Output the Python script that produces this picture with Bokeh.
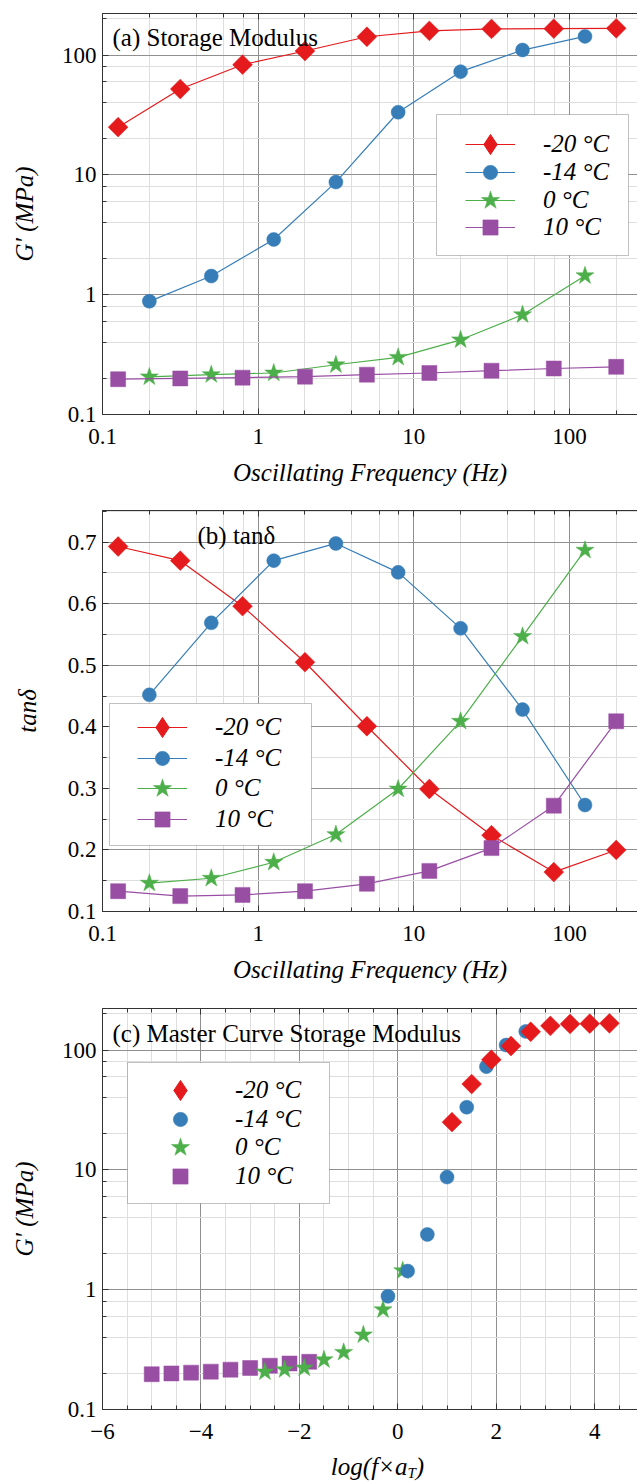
from bokeh.plotting import figure
from bokeh.models import (LogAxis, LinearAxis, LogTicker, SingleIntervalTicker,
                          CustomJSTickFormatter, Legend, LegendItem, Label,
                          BoxAnnotation, Range1d, Div)
from bokeh.layouts import column
from bokeh.embed import file_html
from bokeh.resources import INLINE

# ---------------- data ----------------
series_names = ["-20 °C", "-14 °C", "0 °C", "10 °C"]
colors = ["#e41a1c", "#377eb8", "#4daf4a", "#984ea3"]

freq_9 = [0.126, 0.316, 0.794, 2.0, 5.0, 12.6, 31.6, 79.4, 200.0]   # -20 °C and 10 °C
freq_8 = [0.2, 0.5, 1.26, 3.16, 7.94, 20.0, 50.0, 126.0]            # -14 °C and 0 °C

g_m20 = [25, 52, 83, 108, 142, 159, 165, 166, 167]
g_m14 = [0.88, 1.43, 2.89, 8.7, 33.3, 72.6, 110, 143]
g_0 = [0.206, 0.215, 0.222, 0.26, 0.30, 0.42, 0.68, 1.44]
g_10 = [0.197, 0.200, 0.203, 0.207, 0.215, 0.222, 0.232, 0.242, 0.25]

tan_m20 = [0.693, 0.670, 0.596, 0.505, 0.401, 0.299, 0.224, 0.164, 0.200]
tan_m14 = [0.452, 0.569, 0.670, 0.698, 0.651, 0.560, 0.428, 0.273]
tan_0 = [0.146, 0.154, 0.180, 0.225, 0.299, 0.409, 0.547, 0.687]
tan_10 = [0.133, 0.125, 0.127, 0.133, 0.145, 0.166, 0.203, 0.272, 0.409]

logfa_m20 = [1.1, 1.5, 1.9, 2.3, 2.7, 3.1, 3.5, 3.9, 4.3]
logfa_m14 = [-0.2, 0.2, 0.6, 1.0, 1.4, 1.8, 2.2, 2.6]
logfa_0 = [-2.7, -2.3, -1.9, -1.5, -1.1, -0.7, -0.3, 0.1]
logfa_10 = [-5.0, -4.6, -4.2, -3.8, -3.4, -3.0, -2.6, -2.2, -1.8]

# ---------------- style ----------------
SERIF = "Liberation Serif"
W = 637
LEFT = 102
TICK_FS = "23px"
LABEL_FS = "25px"
MAJ_GRID = "#8f8f8f"
MIN_GRID = "#dedede"
AX = "#333333"

markers = [dict(marker="square", angle=0.785398, size=14),
           dict(marker="circle", size=14),
           dict(marker="star", size=19),
           dict(marker="square", size=15)]
# legend glyph box heights (legend marker size = 0.4 * box)
legend_gh = [52, 36, 48, 38]

log_fmt = CustomJSTickFormatter(code="return String(Number(tick.toPrecision(3)));")
minus_fmt = CustomJSTickFormatter(code="return (tick < 0 ? '\\u2212' + String(-tick) : String(tick));")
dec_fmt = CustomJSTickFormatter(code="return tick.toFixed(1);")
blank_fmt = CustomJSTickFormatter(code="return ' ';")


def style_axis(ax, show_labels=True):
    ax.major_tick_in = 6
    ax.major_tick_out = 0
    ax.minor_tick_in = 4
    ax.minor_tick_out = 0
    ax.axis_line_color = AX
    ax.major_tick_line_color = AX
    ax.minor_tick_line_color = AX
    ax.major_label_text_font = SERIF
    ax.major_label_text_color = "black" if show_labels else None
    ax.major_label_text_font_size = TICK_FS if show_labels else "2px"
    ax.axis_label_text_font = SERIF
    ax.axis_label_text_font_style = "italic"
    ax.axis_label_text_font_size = LABEL_FS
    ax.axis_label_text_color = "black"


def make_fig(height, top, bottom, x_type, y_type, x_range, y_range):
    p = figure(width=W, height=height, x_axis_type=x_type, y_axis_type=y_type,
               x_range=x_range, y_range=y_range,
               output_backend="svg", toolbar_location=None,
               min_border_left=LEFT, min_border_right=0,
               min_border_top=top, min_border_bottom=bottom)
    p.outline_line_color = None
    p.background_fill_color = "white"
    p.border_fill_color = "white"
    for g in (p.xgrid[0], p.ygrid[0]):
        g.grid_line_color = MAJ_GRID
        g.grid_line_width = 1
        g.minor_grid_line_color = MIN_GRID
        g.minor_grid_line_width = 1
    return p


def add_top_axis(p, ticker, log=True):
    ax = LogAxis(ticker=ticker, formatter=blank_fmt) if log else LinearAxis(ticker=ticker, formatter=blank_fmt)
    style_axis(ax, show_labels=False)
    ax.major_label_standoff = 0
    p.add_layout(ax, "above")


def legend_box(p, left, right, bottom, top):
    box = BoxAnnotation(left=left, right=right, bottom=bottom, top=top,
                        left_units="screen", right_units="screen",
                        bottom_units="screen", top_units="screen",
                        fill_color="white", fill_alpha=1.0,
                        line_color="#333333", line_width=1, level="annotation")
    p.add_layout(box)


def add_legend_row(p, item, x, y_center, gw, gh, standoff):
    lg = Legend(items=[item], location=(int(x), int(y_center - gh // 2)),
                padding=0, spacing=0,
                glyph_width=int(gw), glyph_height=int(gh), label_height=int(gh),
                label_standoff=int(standoff), border_line_color=None,
                background_fill_alpha=0.0,
                label_text_font=SERIF, label_text_font_style="italic",
                label_text_font_size=LABEL_FS, label_text_color="black")
    p.add_layout(lg)


def legend_proxy(p, idx, xs, ys, real):
    # the legend draws markers unrotated: use a diamond-shaped hidden copy for -20 °C
    if idx == 0:
        return p.scatter(xs, ys, marker="diamond", size=20, fill_color=colors[0],
                         line_color=colors[0], visible=False)
    return real


# ================= panel (a) =================
pa = make_fig(497, 13, 83, "log", "log", Range1d(0.1, 274), Range1d(0.1, 222))
pa.xaxis.ticker = LogTicker()
pa.yaxis.ticker = LogTicker()
pa.xaxis.formatter = log_fmt
pa.yaxis.formatter = log_fmt
style_axis(pa.xaxis[0])
style_axis(pa.yaxis[0])
pa.xaxis.axis_label = "Oscillating Frequency (Hz)"
pa.yaxis.axis_label = "G′ (MPa)"
pa.xaxis.major_label_standoff = 14
pa.xaxis.axis_label_standoff = 12
pa.yaxis.major_label_standoff = 6
pa.yaxis.axis_label_standoff = 21
add_top_axis(pa, pa.xaxis[0].ticker)

xs_a = [freq_9, freq_8, freq_8, freq_9]
ys_a = [g_m20, g_m14, g_0, g_10]
items_a = []
for i, (name, c, m, xs, ys) in enumerate(zip(series_names, colors, markers, xs_a, ys_a)):
    ln = pa.line(xs, ys, line_color=c, line_width=1.2)
    sc = pa.scatter(xs, ys, fill_color=c, line_color=c, line_width=0.5, **m)
    items_a.append(LegendItem(label=name, renderers=[ln, legend_proxy(pa, i, xs, ys, sc)]))

pa.add_layout(Label(x=10, y=377, x_units="screen", y_units="screen",
                    text="(a) Storage Modulus", text_font=SERIF,
                    text_font_size="25px", text_baseline="middle", text_color="black"))
legend_box(pa, 334, 526, 159, 300)
for i, yc in enumerate([270, 242, 214, 187]):
    add_legend_row(pa, items_a[i], 363, yc, 50, legend_gh[i], 28)

# ================= panel (b) =================
pb = make_fig(497, 13, 83, "log", "linear", Range1d(0.1, 274), Range1d(0.1, 0.7515))
pb.xaxis.ticker = LogTicker()
pb.yaxis.ticker = SingleIntervalTicker(interval=0.1, num_minor_ticks=2)
pb.xaxis.formatter = log_fmt
pb.yaxis.formatter = dec_fmt
style_axis(pb.xaxis[0])
style_axis(pb.yaxis[0])
pb.xaxis.axis_label = "Oscillating Frequency (Hz)"
pb.yaxis.axis_label = "tanδ"
pb.xaxis.major_label_standoff = 14
pb.xaxis.axis_label_standoff = 12
pb.yaxis.major_label_standoff = 6
pb.yaxis.axis_label_standoff = 24
add_top_axis(pb, pb.xaxis[0].ticker)

ys_b = [tan_m20, tan_m14, tan_0, tan_10]
items_b = []
for i, (name, c, m, xs, ys) in enumerate(zip(series_names, colors, markers, xs_a, ys_b)):
    ln = pb.line(xs, ys, line_color=c, line_width=1.2)
    sc = pb.scatter(xs, ys, fill_color=c, line_color=c, line_width=0.5, **m)
    items_b.append(LegendItem(label=name, renderers=[ln, legend_proxy(pb, i, xs, ys, sc)]))

pb.add_layout(Label(x=95, y=376, x_units="screen", y_units="screen",
                    text="(b) tanδ", text_font=SERIF,
                    text_font_size="25px", text_baseline="middle", text_color="black"))
legend_box(pb, 7, 209, 66, 208)
for i, yc in enumerate([184, 153, 123, 92]):
    add_legend_row(pb, items_b[i], 35, yc, 50, legend_gh[i], 28)

# ================= panel (c) =================
pc = make_fig(455, 14, 40, "linear", "log", Range1d(-6, 4.87), Range1d(0.1, 222))
pc.xaxis.ticker = SingleIntervalTicker(interval=2, num_minor_ticks=4)
pc.yaxis.ticker = LogTicker()
pc.xaxis.formatter = minus_fmt
pc.yaxis.formatter = log_fmt
style_axis(pc.xaxis[0])
style_axis(pc.yaxis[0])
pc.yaxis.axis_label = "G′ (MPa)"
pc.xaxis.major_label_standoff = 14
pc.yaxis.major_label_standoff = 6
pc.yaxis.axis_label_standoff = 21
add_top_axis(pc, pc.xaxis[0].ticker, log=False)

xs_c = [logfa_m20, logfa_m14, logfa_0, logfa_10]
rend_c = {}
for idx in [3, 2, 1, 0]:
    c, m = colors[idx], markers[idx]
    rend_c[idx] = pc.scatter(xs_c[idx], ys_a[idx], fill_color=c, line_color=c,
                             line_width=0.5, **m)
items_c = [LegendItem(label=series_names[i],
                      renderers=[legend_proxy(pc, i, xs_c[i], ys_a[i], rend_c[i])])
           for i in range(4)]

pc.add_layout(Label(x=10, y=376, x_units="screen", y_units="screen",
                    text="(c) Master Curve Storage Modulus", text_font=SERIF,
                    text_font_size="25px", text_baseline="middle", text_color="black"))
legend_box(pc, 25, 227, 206, 347)
for i, yc in enumerate([319, 290, 262, 233]):
    gh = min(legend_gh[i], 50)
    add_legend_row(pc, items_c[i], 78 - gh // 2, yc, gh, gh, 55 - gh // 2)

# x-axis title of panel (c), with subscript
xlabel_c = Div(
    text=('<div style="width:541px;margin-left:102px;text-align:center;'
          'font-family:\'Liberation Serif\';font-style:italic;font-size:25px;'
          'line-height:25px;padding-top:0px;color:black;white-space:nowrap;">'
          'log(f×a<sub style="font-size:15px;line-height:0;vertical-align:-3px;">T</sub>)</div>'),
    width=W, height=32)

layout = column(pa, pb, pc, xlabel_c, spacing=0)
open("out.html", "w").write(file_html(layout, INLINE))
